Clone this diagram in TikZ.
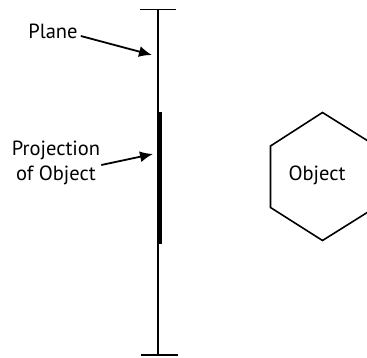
\documentclass[tikz,border=0pt]{standalone}
\usepackage{fontspec}
\setmainfont{PT Sans}
\usetikzlibrary{arrows.meta,positioning}
\tikzset{
  planeline/.style={draw=black,line width=1.6pt},
  projline/.style={draw=black,line width=5pt},
  callout/.style={-{Latex[length=13pt,width=11pt]},line width=1.8pt,draw=black},
  labeltext/.style={font=\fontsize{20.5}{25}\selectfont,inner sep=1pt,align=center},
  objshape/.style={draw=black,line width=1.6pt,line join=miter}
}
\begin{document}
\begin{tikzpicture}[x=1pt,y=-1pt]
  \useasboundingbox (0,0) rectangle (367,358);
  % the plane seen edge-on
  \coordinate (ptop) at (158,9.5);
  \coordinate (pbot) at (158,355);
  \draw[planeline] (ptop) -- (pbot);
  \draw[planeline] (140,9.5) -- (176,9.5);
  \draw[planeline] (141,355) -- (178,355);
  % projection
  \draw[projline] (159,112) -- (159,244);
  % labels
  \node[labeltext] (plane) at (53,31) {Plane};
  \node[labeltext] (proj) at (56,163) {Projection\\of Object};
  \coordinate (planehit) at (152,55);
  \coordinate (projhit) at (153,154);
  \draw[callout] (plane.east) ++(2,5) -- (planehit);
  \draw[callout] (proj.east) ++(0,2) -- (projhit);
  % object
  \draw[objshape] (322.5,112.5) -- (368,141) -- (368,212) -- (322.5,240.5)
    -- (270.5,207.5) -- (270.5,146) -- cycle;
  \node[labeltext] (obj) at (317,175) {Object};
\end{tikzpicture}
\end{document}
